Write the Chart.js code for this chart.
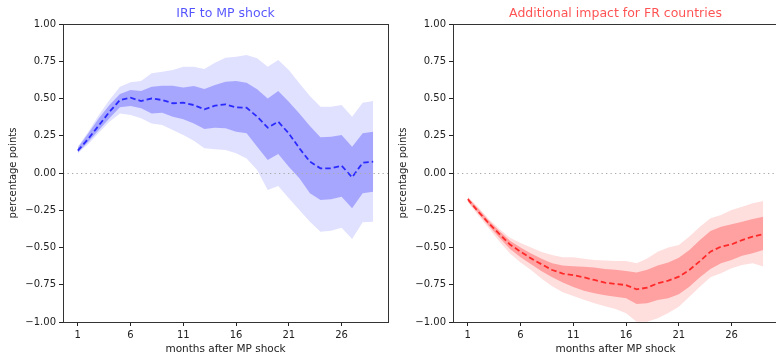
<!DOCTYPE html>
<html>
<head>
<meta charset="utf-8">
<script src="https://cdn.jsdelivr.net/npm/chart.js@4.4.1/dist/chart.umd.min.js"></script>
<style>
  html, body { margin: 0; padding: 0; background: #fff; overflow: hidden; }
  #wrap { position: relative; width: 776px; height: 355px; overflow: hidden; }
  #wrap canvas { position: absolute; top: 0; }
  #irfChart { left: 0; }
  #frChart { left: 390px; }
</style>
</head>
<body>
<div id="wrap">
  <canvas id="irfChart" width="400" height="355"></canvas>
  <canvas id="frChart" width="400" height="355"></canvas>
</div>
<script>
// months after the shock
const months = [1, 2, 3, 4, 5, 6, 7, 8, 9, 10, 11, 12, 13, 14, 15, 16, 17, 18, 19, 20, 21, 22, 23, 24, 25, 26, 27, 28, 29];
const xTicks = [1, 6, 11, 16, 21, 26];
const yTicks = [-1, -0.75, -0.5, -0.25, 0, 0.25, 0.5, 0.75, 1];

// left panel - IRF to MP shock
const irfMean = [0.15, 0.23, 0.32, 0.41, 0.49, 0.505, 0.483, 0.50, 0.49, 0.468, 0.472, 0.456, 0.427, 0.452, 0.461, 0.441, 0.438, 0.378, 0.304, 0.344, 0.266, 0.166, 0.076, 0.031, 0.031, 0.049, -0.029, 0.069, 0.076];
const irfInnerHigh = [0.17, 0.266, 0.367, 0.456, 0.53, 0.557, 0.55, 0.579, 0.586, 0.586, 0.573, 0.584, 0.564, 0.59, 0.613, 0.617, 0.606, 0.562, 0.50, 0.55, 0.479, 0.40, 0.315, 0.24, 0.244, 0.255, 0.177, 0.266, 0.277];
const irfInnerLow = [0.136, 0.21, 0.289, 0.367, 0.441, 0.45, 0.434, 0.40, 0.405, 0.378, 0.36, 0.333, 0.295, 0.304, 0.30, 0.277, 0.266, 0.177, 0.087, 0.128, 0.042, -0.036, -0.136, -0.181, -0.177, -0.159, -0.237, -0.136, -0.125];
const irfOuterHigh = [0.177, 0.277, 0.389, 0.49, 0.579, 0.609, 0.617, 0.669, 0.68, 0.691, 0.713, 0.713, 0.698, 0.74, 0.774, 0.78, 0.792, 0.77, 0.713, 0.758, 0.691, 0.602, 0.517, 0.445, 0.445, 0.456, 0.378, 0.472, 0.483];
const irfOuterLow = [0.132, 0.195, 0.27, 0.344, 0.40, 0.389, 0.367, 0.333, 0.322, 0.289, 0.255, 0.217, 0.166, 0.159, 0.154, 0.132, 0.098, 0.02, -0.114, -0.087, -0.17, -0.248, -0.327, -0.394, -0.387, -0.367, -0.443, -0.331, -0.327];

// right panel - additional impact for FR countries
const frMean = [-0.175, -0.26, -0.338, -0.41, -0.48, -0.528, -0.573, -0.613, -0.651, -0.675, -0.685, -0.70, -0.718, -0.736, -0.745, -0.752, -0.781, -0.77, -0.74, -0.722, -0.696, -0.651, -0.591, -0.528, -0.494, -0.479, -0.45, -0.427, -0.411];
const frInnerHigh = [-0.165, -0.24, -0.32, -0.39, -0.455, -0.50, -0.54, -0.575, -0.605, -0.62, -0.625, -0.63, -0.635, -0.645, -0.65, -0.658, -0.667, -0.65, -0.62, -0.60, -0.568, -0.517, -0.45, -0.39, -0.36, -0.344, -0.327, -0.309, -0.293];
const frInnerLow = [-0.19, -0.27, -0.355, -0.435, -0.51, -0.565, -0.613, -0.66, -0.70, -0.735, -0.765, -0.79, -0.807, -0.82, -0.83, -0.841, -0.88, -0.874, -0.852, -0.84, -0.814, -0.763, -0.70, -0.645, -0.606, -0.584, -0.555, -0.539, -0.517];
const frOuterHigh = [-0.16, -0.23, -0.309, -0.375, -0.434, -0.47, -0.50, -0.53, -0.55, -0.565, -0.565, -0.575, -0.584, -0.588, -0.591, -0.591, -0.606, -0.573, -0.528, -0.50, -0.483, -0.427, -0.36, -0.304, -0.282, -0.248, -0.226, -0.203, -0.188];
const frOuterLow = [-0.195, -0.285, -0.37, -0.46, -0.54, -0.60, -0.651, -0.71, -0.76, -0.80, -0.825, -0.85, -0.874, -0.895, -0.913, -0.942, -0.998, -0.998, -0.975, -0.94, -0.897, -0.83, -0.763, -0.70, -0.673, -0.64, -0.617, -0.606, -0.628];

const FONT = 'DejaVu Sans';

const pts = arr => arr.map((v, i) => ({ x: months[i], y: v }));
const minus = v => v.toFixed(2).replace('-', '\u2212');

// box around the axes + dotted zero line
const framePlugin = {
    id: 'frame',
    afterDatasetsDraw(chart) {
        const { ctx, chartArea: a, scales } = chart;
        const y0 = Math.round(scales.y.getPixelForValue(0)) + 0.5;
        ctx.save();
        ctx.strokeStyle = '#aaaaaa';
        ctx.lineWidth = 1.2;
        ctx.setLineDash([1.3, 3.2]);
        ctx.beginPath();
        ctx.moveTo(a.left, y0);
        ctx.lineTo(a.right, y0);
        ctx.stroke();
        ctx.setLineDash([]);
        ctx.strokeStyle = '#333';
        ctx.lineWidth = 1;
        ctx.strokeRect(Math.round(a.left) + 0.5, Math.round(a.top) + 0.5,
            Math.round(a.right - a.left), Math.round(a.bottom - a.top));
        ctx.restore();
    }
};

function makeChart(id, title, titleColor, lineColor, outerFill, innerFill, mean, inLo, inHi, outLo, outHi) {
    const band = (data, fill, bg) => ({
        data: pts(data),
        borderWidth: 0,
        borderColor: 'transparent',
        backgroundColor: bg,
        pointRadius: 0,
        fill: fill
    });
    return new Chart(document.getElementById(id), {
        type: 'line',
        data: {
            datasets: [
                {
                    data: pts(mean),
                    borderColor: lineColor,
                    borderWidth: 1.8,
                    borderDash: [5.5, 3],
                    pointRadius: 0,
                    fill: false
                },
                band(inHi, '+1', innerFill),
                band(inLo, false, 'transparent'),
                band(outHi, '+1', outerFill),
                band(outLo, false, 'transparent')
            ]
        },
        options: {
            responsive: false,
            animation: false,
            devicePixelRatio: 1,
            layout: { padding: { left: 0, right: 12, top: 0, bottom: 0 } },
            plugins: {
                legend: { display: false },
                tooltip: { enabled: false },
                title: {
                    display: true,
                    fullSize: false,
                    text: title,
                    color: titleColor,
                    font: { family: FONT, size: 12.5, weight: 'normal', lineHeight: 1.2 },
                    padding: { top: 6.5, bottom: 2.5 }
                }
            },
            scales: {
                x: {
                    type: 'linear',
                    min: -0.4,
                    max: 30.4,
                    afterBuildTicks: s => { s.ticks = xTicks.map(v => ({ value: v })); },
                    afterFit: s => { s.height = 33; },
                    grid: { drawOnChartArea: false, tickLength: 4, color: '#222', tickColor: '#222' },
                    border: { display: false },
                    ticks: { color: '#222', padding: 3, maxRotation: 0, font: { family: FONT, size: 10 } },
                    title: {
                        display: true,
                        text: 'months after MP shock',
                        color: '#222',
                        font: { family: FONT, size: 10.5, lineHeight: 1 },
                        padding: { top: 0, bottom: 0 }
                    }
                },
                y: {
                    min: -1,
                    max: 1,
                    afterBuildTicks: s => { s.ticks = yTicks.map(v => ({ value: v })); },
                    afterFit: s => { s.width = 63; },
                    grid: { drawOnChartArea: false, tickLength: 4, color: '#222', tickColor: '#222' },
                    border: { display: false },
                    ticks: {
                        color: '#222',
                        padding: 3,
                        font: { family: FONT, size: 10 },
                        callback: v => minus(v)
                    },
                    title: {
                        display: true,
                        text: 'percentage points',
                        color: '#222',
                        font: { family: FONT, size: 10, lineHeight: 1.2 },
                        padding: { top: 7.5, bottom: 0 }
                    }
                }
            }
        },
        plugins: [framePlugin]
    });
}

makeChart('irfChart', 'IRF to MP shock', 'rgba(0,0,255,0.68)', 'rgba(0,0,255,0.75)',
    'rgba(0,0,255,0.12)', 'rgba(0,0,255,0.26)',
    irfMean, irfInnerLow, irfInnerHigh, irfOuterLow, irfOuterHigh);

makeChart('frChart', 'Additional impact for FR countries', 'rgba(255,0,0,0.68)', 'rgba(255,0,0,0.75)',
    'rgba(255,0,0,0.13)', 'rgba(255,0,0,0.28)',
    frMean, frInnerLow, frInnerHigh, frOuterLow, frOuterHigh);
</script>
</body>
</html>
